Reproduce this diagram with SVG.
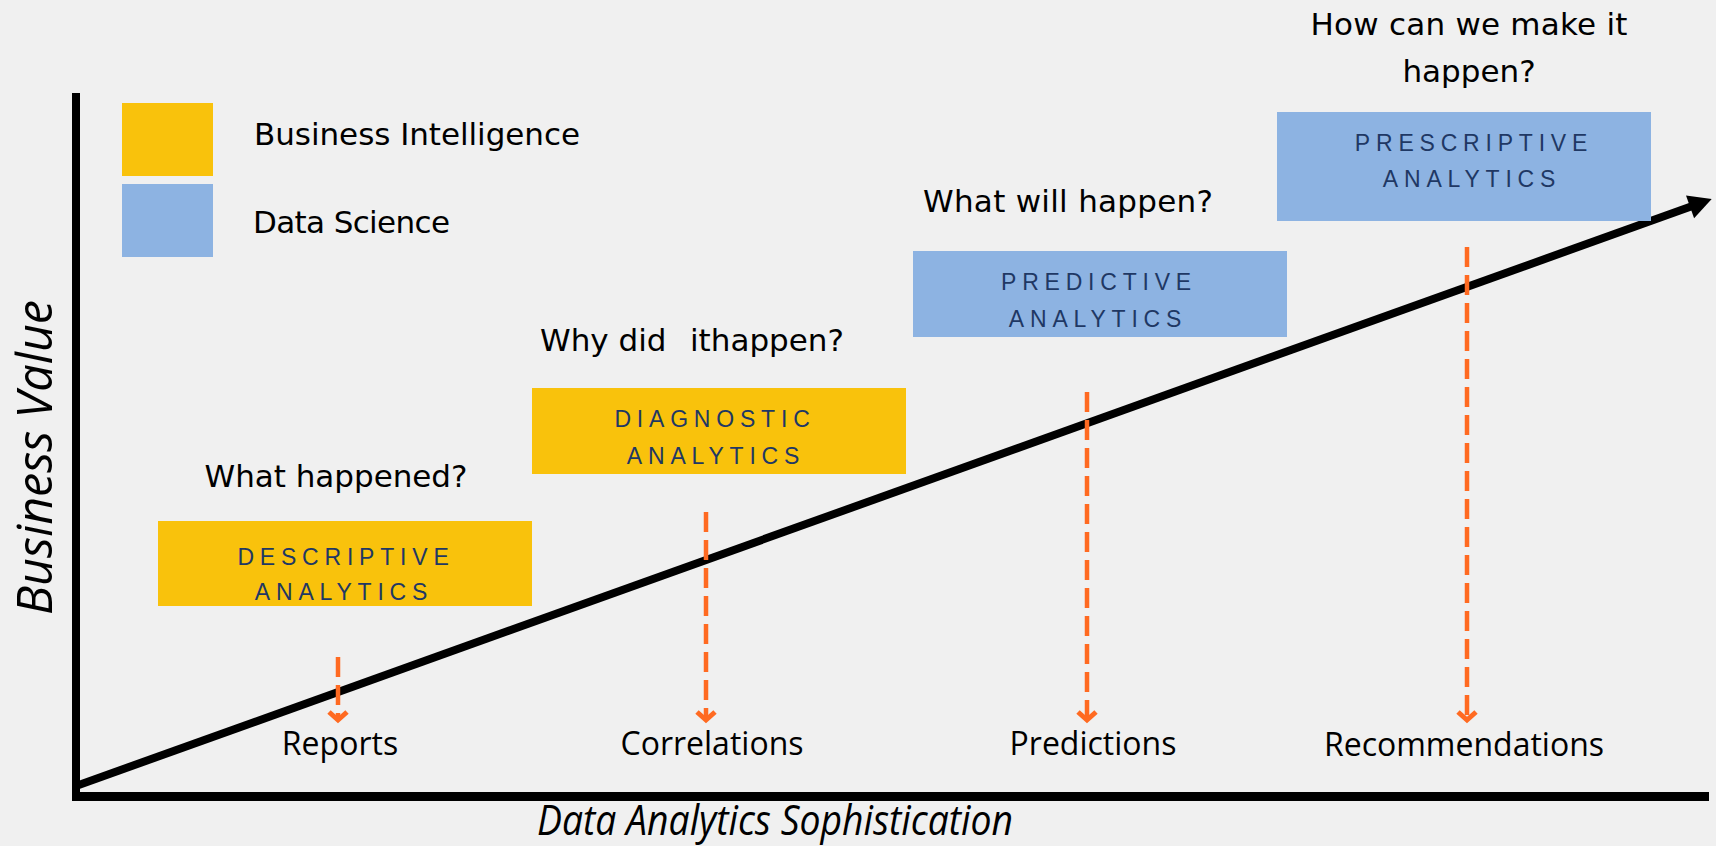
<svg xmlns="http://www.w3.org/2000/svg" width="1716" height="846" viewBox="0 0 1716 846">
  <style>
    .bg { fill: #F0F0F0; }
    .bi { fill: #F9C20C; }
    .ds { fill: #8DB3E2; }
    .boxtxt { font-family: "Liberation Sans", Arial, sans-serif; font-size: 23px; letter-spacing: 5.8px; fill: #1F3864; text-anchor: middle; }
    .q { font-family: "DejaVu Sans", Verdana, sans-serif; font-size: 31px; fill: #000; text-anchor: middle; }
    .leg { font-family: "DejaVu Sans", Verdana, sans-serif; font-size: 31px; fill: #000; }
    .out { font-family: "Open Sans", "Noto Sans", sans-serif; font-size: 32px; fill: #000; text-anchor: middle; }
    .axlbl { font-family: "Open Sans", "Noto Sans", sans-serif; font-style: italic; fill: #000; text-anchor: middle; }
    .axis { fill: #000; }
    .trend { stroke: #000; stroke-width: 8; fill: none; }
    .drop { stroke: #FF6A21; stroke-width: 4.5; stroke-dasharray: 20 8; fill: none; }
  </style>
  <defs>
    <marker id="blackHead" markerUnits="userSpaceOnUse" markerWidth="30" markerHeight="30" refX="1" refY="0" orient="auto" overflow="visible" viewBox="-2 -15 30 30">
      <path d="M0,-12 L23,0 L0,12 Z" fill="#000"/>
    </marker>
    <marker id="orangeHead" markerUnits="userSpaceOnUse" markerWidth="30" markerHeight="30" refX="0" refY="0" orient="auto" overflow="visible" viewBox="-15 -15 30 30">
      <path d="M-8,-9 L0,0 L-8,9" fill="none" stroke="#FF6A21" stroke-width="5" stroke-linejoin="miter"/>
    </marker>
  </defs>

  <rect class="bg" x="0" y="0" width="1716" height="846"/>

  <g id="axes">
    <rect class="axis" x="72" y="93" width="8" height="708"/>
    <rect class="axis" x="72" y="792" width="1637" height="9"/>
    <text class="axlbl" font-size="50" transform="translate(52,457.5) rotate(-90)" textLength="315" lengthAdjust="spacingAndGlyphs">Business Value</text>
    <text class="axlbl" font-size="42" x="775" y="835" textLength="476" lengthAdjust="spacingAndGlyphs">Data Analytics Sophistication</text>
  </g>

  <g id="legend">
    <rect class="bi" x="122" y="103" width="91" height="73"/>
    <rect class="ds" x="122" y="184" width="91" height="73"/>
    <text class="leg" x="254" y="145" textLength="326">Business Intelligence</text>
    <text class="leg" x="253" y="233" textLength="197">Data Science</text>
  </g>

  <g id="connectors">
    <line class="trend" x1="76" y1="786" x2="1691" y2="206.5" marker-end="url(#blackHead)"/>
    <line class="drop" x1="338" y1="657" x2="338" y2="720" marker-end="url(#orangeHead)"/>
    <line class="drop" x1="706" y1="512" x2="706" y2="720" marker-end="url(#orangeHead)"/>
    <line class="drop" x1="1087" y1="392" x2="1087" y2="720" marker-end="url(#orangeHead)"/>
    <line class="drop" x1="1467" y1="247" x2="1467" y2="720" marker-end="url(#orangeHead)"/>
  </g>

  <g id="descriptive">
    <text class="q" x="336" y="487" font-size="30" textLength="263">What happened?</text>
    <rect class="bi" x="158" y="521" width="374" height="85"/>
    <text class="boxtxt" x="346" y="565">DESCRIPTIVE</text>
    <text class="boxtxt" x="344" y="600">ANALYTICS</text>
  </g>

  <g id="diagnostic">
    <text class="q" y="351" style="text-anchor:start"><tspan x="540">Why did</tspan><tspan x="690">ithappen?</tspan></text>
    <rect class="bi" x="532" y="388" width="374" height="86"/>
    <text class="boxtxt" x="715" y="427">DIAGNOSTIC</text>
    <text class="boxtxt" x="716" y="464">ANALYTICS</text>
  </g>

  <g id="predictive">
    <text class="q" x="1068" y="212" textLength="290">What will happen?</text>
    <rect class="ds" x="913" y="251" width="374" height="86"/>
    <text class="boxtxt" x="1099" y="290">PREDICTIVE</text>
    <text class="boxtxt" x="1098" y="327">ANALYTICS</text>
  </g>

  <g id="prescriptive">
    <text class="q" x="1469" y="35" textLength="317">How can we make it</text>
    <text class="q" x="1469" y="82">happen?</text>
    <rect class="ds" x="1277" y="112" width="374" height="109"/>
    <text class="boxtxt" x="1474" y="151">PRESCRIPTIVE</text>
    <text class="boxtxt" x="1472" y="187">ANALYTICS</text>
  </g>

  <g id="outcomes">
    <text class="out" x="340" y="755">Reports</text>
    <text class="out" x="712" y="755">Correlations</text>
    <text class="out" x="1093" y="755">Predictions</text>
    <text class="out" x="1464" y="756">Recommendations</text>
  </g>
</svg>
